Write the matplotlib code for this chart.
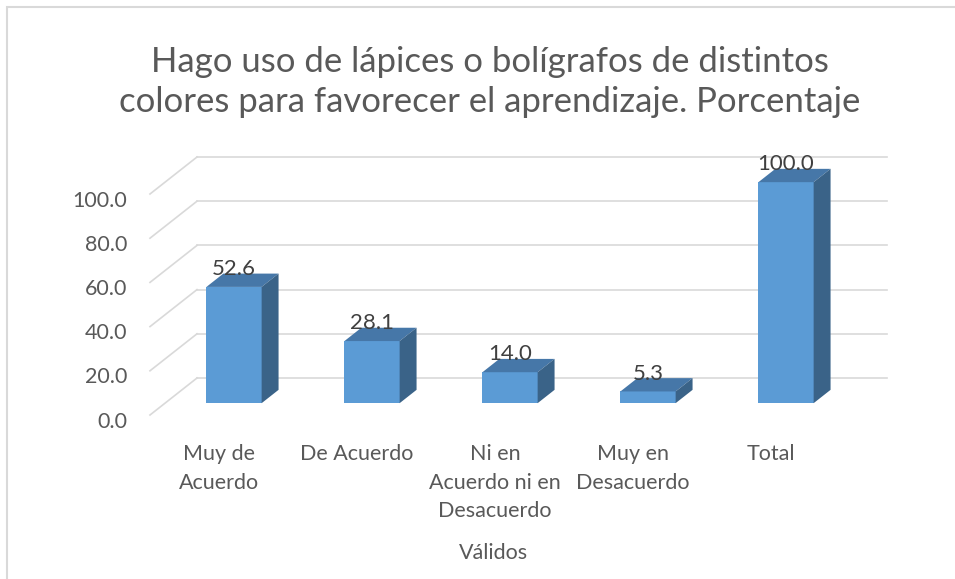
import numpy as np
import matplotlib
matplotlib.use("Agg")
import matplotlib.pyplot as plt
from matplotlib.patches import Polygon, Rectangle

# data
categories = ["Muy de\nAcuerdo", "De Acuerdo", "Ni en\nAcuerdo ni en\nDesacuerdo",
              "Muy en\nDesacuerdo", "Total"]
values = [52.6, 28.1, 14.0, 5.3, 100.0]
yticks = [0, 20, 40, 60, 80, 100]
title = "Hago uso de lápices o bolígrafos de distintos\ncolores para favorecer el aprendizaje. Porcentaje"
xlabel = "Válidos"

plt.rcParams["font.family"] = ["Lato", "DejaVu Sans"]

W, H, DPI = 955, 579, 100
fig = plt.figure(figsize=(W / DPI, H / DPI), dpi=DPI)
ax = fig.add_axes([0, 0, 1, 1])
ax.set_axis_off()

# pixel layout -> data scale (category units / value units)
px_cat = 138.0
px_val = 2.21
x_left_px, y0_px = 150, 415
ax.set_xlim(-0.5 - x_left_px / px_cat, -0.5 + (W - x_left_px) / px_cat)
ax.set_ylim((y0_px - H) / px_val, y0_px / px_val)

DX = 47 / px_cat      # depth shift in x
DY = 37 / px_val      # depth shift in y
n = len(categories)
xl, xr = -0.5, n - 0.5

grid_c = "#D9D9D9"
txt_c = "#595959"
fs = 15.5

# back wall grid + side wall diagonals
for t in yticks:
    ax.plot([xl + DX, xr + DX], [t + DY, t + DY], color=grid_c, lw=1.2, zorder=1)
    ax.plot([xl, xl + DX], [t, t + DY], color=grid_c, lw=1.2, zorder=1)
    ax.text(xl - 23 / px_cat, t - 3, f"{t:.1f}", ha="right", va="center",
            fontsize=fs, color=txt_c)

# bars
front_c, top_c, side_c = "#5B9BD5", "#4677A8", "#3A6388"
d0, d1 = 0.32, 0.68
hw = 0.2
for i, v in enumerate(values):
    cx = i + d0 * DX
    y0 = d0 * DY
    dd = (d1 - d0)
    ax.add_patch(Polygon([(cx - hw, y0), (cx + hw, y0), (cx + hw, v + y0), (cx - hw, v + y0)],
                         closed=True, fc=front_c, ec="none", zorder=3))
    ax.add_patch(Polygon([(cx - hw, v + y0), (cx + hw, v + y0),
                          (cx + hw + dd * DX, v + y0 + dd * DY), (cx - hw + dd * DX, v + y0 + dd * DY)],
                         closed=True, fc=top_c, ec="none", zorder=3))
    ax.add_patch(Polygon([(cx + hw, y0), (cx + hw, v + y0),
                          (cx + hw + dd * DX, v + y0 + dd * DY), (cx + hw + dd * DX, y0 + dd * DY)],
                         closed=True, fc=side_c, ec="none", zorder=3))
    ax.text(cx, v + y0 + dd * DY + 2.0, f"{v:.1f}", ha="center", va="center",
            fontsize=16, color="#404040", zorder=4)

# category labels
for i, c in enumerate(categories):
    ax.text(i, -13.0, c, ha="center", va="top", fontsize=fs, color=txt_c,
            linespacing=1.55)

fig.text(0.517, 1 - 553 / H, xlabel, ha="center", va="center", fontsize=fs, color=txt_c)
fig.text(0.513, 1 - 82 / H, title, ha="center", va="center", fontsize=25,
         color=txt_c, linespacing=1.3)

# chart border
fig.add_artist(Rectangle((7 / W, -0.05), 1.1, 1 - 7 / H + 0.05, transform=fig.transFigure,
                         fill=False, ec=grid_c, lw=1.5))

fig.savefig("out.png", dpi=DPI)
